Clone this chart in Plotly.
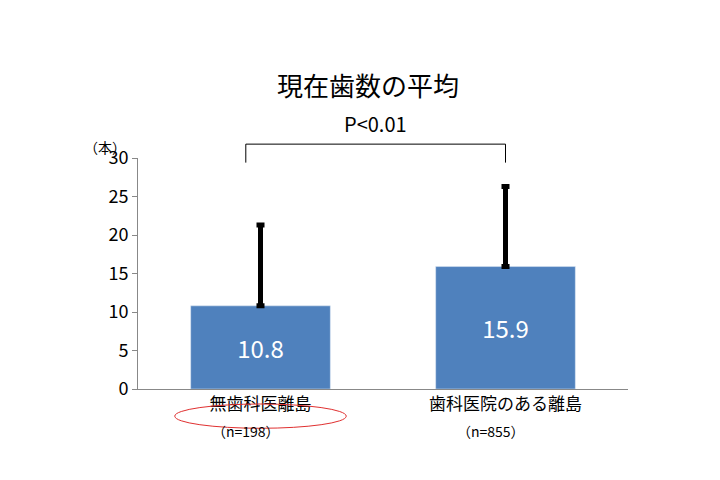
import plotly.graph_objects as go

categories = ["無歯科医離島", "歯科医院のある離島"]
means = [10.8, 15.9]
sds = [10.5, 10.4]
n_labels = ["（n=198）", "（n=855）"]

font = "Noto Sans CJK JP"

fig = go.Figure()
fig.add_trace(go.Bar(
    x=[0, 1], y=means, width=0.57, marker_color="#4f81bd",
    text=[f"{v}" for v in means], textposition="inside", insidetextanchor="middle",
    textfont=dict(color="white", size=24, family=font),
    error_y=dict(type="data", array=sds, arrayminus=[0, 0], color="black", thickness=5, width=4),
))

fig.update_layout(
    width=720, height=480, plot_bgcolor="white", paper_bgcolor="white",
    margin=dict(l=130, r=100, t=150, b=99), showlegend=False,
    font=dict(family=font, color="black"),
    title=dict(text="現在歯数の平均", x=0.5, xanchor="center", y=0.855, font=dict(size=26)),
    yaxis=dict(range=[0, 30], dtick=5, showgrid=False, showline=True, linecolor="#888",
               ticks="outside", ticklen=5, tickcolor="#888", tickfont=dict(size=18)),
    xaxis=dict(range=[-0.5, 1.5], tickvals=[0, 1], ticktext=categories, showline=True,
               linecolor="#888", tickfont=dict(size=17)),
)

# bracket with P value
fig.add_shape(type="path", xref="x", yref="paper",
              path="M -0.06 0.98 L -0.06 1.06 L 1.0 1.06 L 1.0 0.98",
              line=dict(color="black", width=1))
fig.add_annotation(x=0.47, y=1.08, xref="x", yref="paper", text="P<0.01", showarrow=False,
                   yanchor="bottom", font=dict(size=20))
fig.add_annotation(x=-0.02, y=1.1, xref="paper", yref="paper", text="（本）", showarrow=False,
                   xanchor="right", font=dict(size=14))
for i, t in enumerate(n_labels):
    fig.add_annotation(x=i - 0.06, y=-0.235, xref="x", yref="paper", text=t, showarrow=False,
                       font=dict(size=14))
# red ellipse around first label
fig.add_shape(type="circle", xref="x", yref="paper", x0=-0.35, x1=0.35, y0=-0.065, y1=-0.17,
              line=dict(color="#e03030", width=1))

fig.write_html("out.html")
